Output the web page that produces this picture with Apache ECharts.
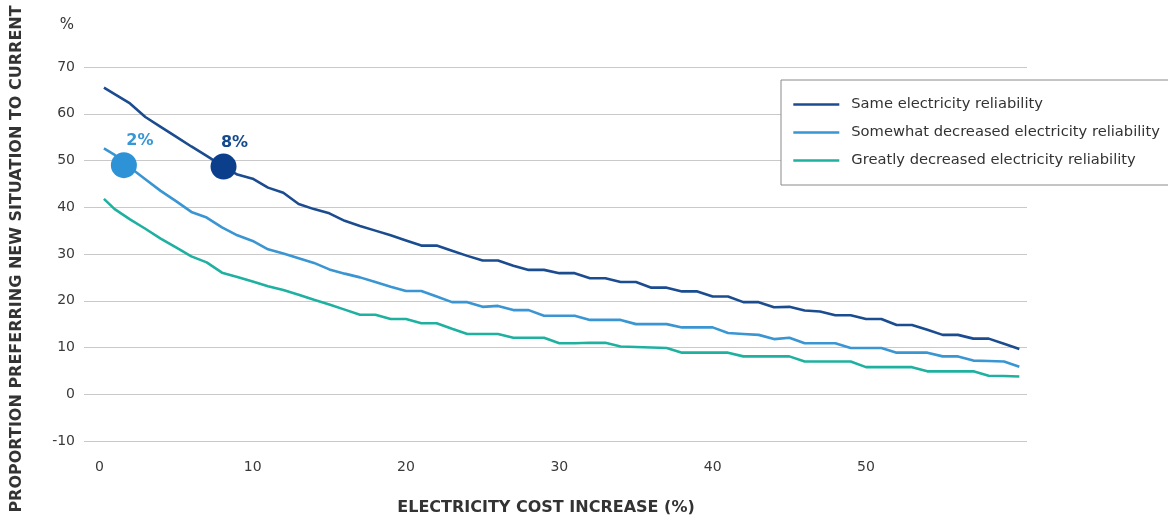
<!DOCTYPE html>
<html>
<head>
<meta charset="utf-8">
<script src="https://cdn.jsdelivr.net/npm/echarts@6/dist/echarts.min.js"></script>
<style>
html,body{margin:0;padding:0;background:#fff;}
#chart{width:1168px;height:516px;}
</style>
</head>
<body>
<div id="chart"></div>
<script>
// ---- data ----
var xValues = [0.3,1,2,3,4,5,6,7,8,9,10,11,12,13,14,15,16,17,18,19,20,21,22,23,24,25,26,27,28,29,30,31,32,33,34,35,36,37,38,39,40,41,42,43,44,45,46,47,48,49,50,51,52,53,54,55,56,57,58,59,60];
var sameReliability = [65.6,64.2,62.2,59.3,57.2,55.1,53.0,51.0,48.9,47.0,46.1,44.2,43.1,40.7,39.6,38.7,37.1,36.0,35.0,34.0,32.9,31.8,31.8,30.7,29.6,28.6,28.6,27.5,26.6,26.6,25.9,25.9,24.8,24.8,24.0,24.0,22.8,22.8,22.0,22.0,20.9,20.9,19.7,19.7,18.6,18.7,17.9,17.7,16.9,16.9,16.1,16.1,14.8,14.8,13.8,12.7,12.7,11.9,11.9,10.8,9.7];
var somewhatDecreased = [52.6,51.2,48.5,46.0,43.5,41.3,39.0,37.8,35.7,34.0,32.8,31.0,30.1,29.1,28.1,26.7,25.8,25.0,24.0,23.0,22.1,22.1,20.9,19.7,19.7,18.7,18.9,18.0,18.0,16.8,16.8,16.8,15.9,15.9,15.9,15.0,15.0,15.0,14.3,14.3,14.3,13.1,12.9,12.7,11.8,12.1,10.9,10.9,10.9,9.9,9.9,9.9,8.9,8.9,8.9,8.1,8.1,7.2,7.1,7.0,5.9];
var greatlyDecreased = [41.8,39.6,37.4,35.4,33.3,31.4,29.5,28.2,26.0,25.1,24.1,23.1,22.3,21.3,20.2,19.2,18.1,17.0,17.0,16.1,16.1,15.2,15.2,14.0,12.9,12.9,12.9,12.1,12.1,12.1,10.9,10.9,11.0,11.0,10.2,10.1,10.0,9.9,8.9,8.9,8.9,8.9,8.1,8.1,8.1,8.1,7.0,7.0,7.0,7.0,5.8,5.8,5.8,5.8,4.9,4.9,4.9,4.9,3.95,3.9,3.8];
var seriesNames = ['Same electricity reliability','Somewhat decreased electricity reliability','Greatly decreased electricity reliability'];
var highlightX = [1.6, 8.1];
var highlightY = [49.0, 48.7];
var highlightLabels = ['2%', '8%'];
var xTickValues = [0,10,20,30,40,50];
var yAxisTitle = 'PROPORTION PREFERRING NEW SITUATION TO CURRENT';
var xAxisTitle = 'ELECTRICITY COST INCREASE (%)';
var yUnit = '%';

// ---- styles ----
var FONT = "'DejaVu Sans', 'Open Sans', sans-serif";
var lineColors = ['#1b4c90', '#3a95d3', '#1fb1a0'];
var markerColors = ['#2e92d6', '#0b3f8c'];
var markerLabelColors = ['#3797d6', '#154a8f'];
var markerLabelOffsets = [[16, -24], [11, -24]];

function pairs(ys){ return xValues.map(function(x,i){ return [x, ys[i]]; }); }
var allY = [sameReliability, somewhatDecreased, greatlyDecreased];

var series = allY.map(function(ys, k){
  return {
    name: seriesNames[k], type: 'line', data: pairs(ys),
    symbol: 'none', smooth: false, z: 2,
    lineStyle: {color: lineColors[k], width: 2.6},
    itemStyle: {color: lineColors[k]}
  };
});
series.push({
  type: 'scatter', z: 5, symbolSize: 26,
  data: highlightX.map(function(x,i){
    return {
      value: [x, highlightY[i]],
      itemStyle: {color: markerColors[i], opacity: 1},
      label: {
        show: true, position: 'inside', offset: markerLabelOffsets[i],
        formatter: highlightLabels[i], color: markerLabelColors[i],
        fontFamily: FONT, fontWeight: 'bold', fontSize: 16
      }
    };
  })
});

var chart = echarts.init(document.getElementById('chart'), null, {renderer: 'canvas'});
chart.setOption({
  animation: false,
  backgroundColor: '#ffffff',
  grid: {left: 84, right: 141, top: 67, bottom: 75, containLabel: false},
  xAxis: {
    type: 'value', min: -1, max: 60.5,
    axisLine: {show: false}, axisTick: {show: false}, splitLine: {show: false},
    axisLabel: {customValues: xTickValues, margin: 19, color: '#3a3a3a', fontSize: 14, fontFamily: FONT}
  },
  yAxis: {
    type: 'value', min: -10, max: 70, interval: 10,
    axisLine: {show: false}, axisTick: {show: false},
    splitLine: {lineStyle: {color: '#c9c9c9', width: 1.2}},
    axisLabel: {margin: 9, color: '#3a3a3a', fontSize: 14, fontFamily: FONT}
  },
  legend: {
    orient: 'vertical', left: 781, top: 80,
    data: seriesNames,
    itemWidth: 46, itemHeight: 14, itemGap: 13,
    padding: [17, 14, 17, 11],
    borderColor: '#8a8a8a', borderWidth: 1, backgroundColor: '#ffffff',
    itemStyle: {opacity: 0},
    lineStyle: {width: 2.6},
    textStyle: {color: '#333333', fontSize: 14.7, lineHeight: 14, fontFamily: FONT, padding: [0,0,0,7]}
  },
  graphic: [
    {type: 'text', x: 67, y: 25, style: {text: yUnit, textAlign: 'center', textVerticalAlign: 'middle', font: '15px ' + FONT, fill: '#333'}},
    {type: 'text', x: 17, y: 259, rotation: Math.PI/2, style: {text: yAxisTitle, textAlign: 'center', textVerticalAlign: 'middle', font: 'bold 16px ' + FONT, fill: '#333'}},
    {type: 'text', x: 546, y: 508, style: {text: xAxisTitle, textAlign: 'center', textVerticalAlign: 'middle', font: 'bold 16px ' + FONT, fill: '#333'}}
  ],
  series: series
});
</script>
</body>
</html>
